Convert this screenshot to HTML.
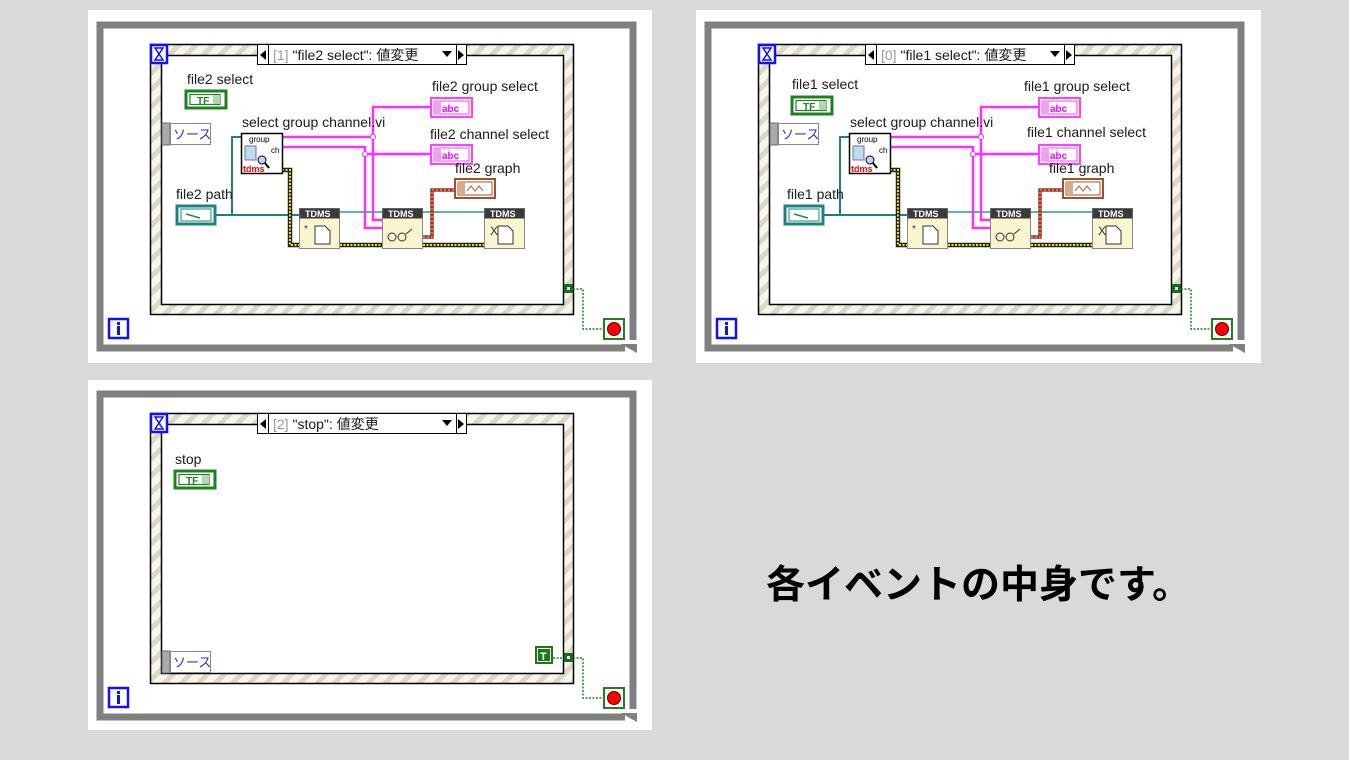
<!DOCTYPE html>
<html><head><meta charset="utf-8"><style>
html,body{margin:0;padding:0;background:#d9d9d9;}
svg{display:block;}
text{font-family:"Liberation Sans","Noto Sans CJK JP",sans-serif;}
</style></head><body>
<svg width="1349" height="760" viewBox="0 0 1349 760" xmlns="http://www.w3.org/2000/svg">
<defs>
<pattern id="hatch" width="12" height="12" patternUnits="userSpaceOnUse" patternTransform="rotate(45)">
<rect width="12" height="12" fill="#f6f5ee"/><rect width="5" height="12" fill="#dcd8c4"/>
</pattern>
<g id="tf">
  <rect x="186" y="91" width="40" height="17" fill="#fff" stroke="#208020" stroke-width="3"/>
  <rect x="190" y="94.5" width="30" height="10" fill="none" stroke="#208020" stroke-width="1.2"/>
  <rect x="213" y="95" width="7" height="9" fill="#b0d8b0"/>
  <text x="197" y="104" font-size="10" font-weight="bold" fill="#208020">TF</text>
</g>
<g id="frame">
  <path d="M633,340 L633,25 L100,25 L100,348 L625,348" fill="none" stroke="#808080" stroke-width="7"/>
  <path d="M621,344 L637,344 L637,353 Z" fill="#808080"/>
  <rect x="150.5" y="44.5" width="423" height="270" fill="url(#hatch)" stroke="#000" stroke-width="1.5"/>
  <rect x="161.5" y="55.5" width="402" height="249" fill="#fff" stroke="#000" stroke-width="1.5"/>
  <rect x="257.5" y="44.5" width="209" height="20" fill="#fff" stroke="#000"/>
  <line x1="268.5" y1="44.5" x2="268.5" y2="64.5" stroke="#000"/>
  <line x1="456.5" y1="44.5" x2="456.5" y2="64.5" stroke="#000"/>
  <path d="M260,55 L266,50 L266,60 Z" fill="#000"/>
  <path d="M464,55 L458,50 L458,60 Z" fill="#000"/>
  <path d="M442,51 L452,51 L447,57 Z" fill="#000"/>
  <rect x="151" y="45" width="16" height="18" fill="#fff" stroke="#1010ff" stroke-width="2.5"/>
  <path d="M155,48 L163,48 L159,54 L163,60 L155,60 L159,54 Z" fill="none" stroke="#1010ff" stroke-width="1.5"/>
  <rect x="109" y="319" width="19" height="19" fill="#fff" stroke="#1010ff" stroke-width="2.5"/>
  <rect x="117" y="322" width="3" height="3" fill="#1010ff"/><rect x="117" y="326" width="3" height="9" fill="#1010ff"/>
  <rect x="604" y="319" width="20" height="20" fill="#fff" stroke="#208020" stroke-width="2"/>
  <circle cx="614" cy="329" r="6.5" fill="#f00" stroke="#600" stroke-width="1"/>
  <rect x="564" y="284" width="9" height="9" fill="#1a6a1a"/><rect x="567" y="287" width="3" height="3" fill="#fff"/>
  <path d="M573,289 L583,289 L583,329 L604,329" fill="none" stroke="#1a8a1a" stroke-width="1.5" stroke-dasharray="2,1.5"/>
</g>
<g id="content">
  <rect x="162" y="123" width="8" height="22" fill="#aaa" stroke="#666"/>
  <rect x="170.5" y="123.5" width="40" height="21" fill="#fff" stroke="#888"/>
  <text x="173" y="139" font-size="13" fill="#3030c0">ソース</text>
  <path d="M216,215 L299,215 M232,215 L232,137 L241,137" fill="none" stroke="#1f8080" stroke-width="2"/>
  <path d="M340,212 L382,212 M423,212 L484,212" stroke="#2a9a9a" stroke-width="1.5"/>
  <path d="M282,170 L290,170 L290,245 L299,245 M340,245 L382,245 M423,245 L484,245" fill="none" stroke="#222" stroke-width="4.5"/>
  <path d="M282,170 L290,170 L290,245 L299,245 M340,245 L382,245 M423,245 L484,245" fill="none" stroke="#e8e800" stroke-width="2" stroke-dasharray="2,1.5"/>
  <path d="M282,137 L373,137 M373,137 L373,107 L430,107 M373,137 L373,220 L382,220 M282,147 L365,147 L365,154 L430,154 M365,154 L365,228 L382,228" fill="none" stroke="#ff30ff" stroke-width="2.5"/>
  <circle cx="373" cy="137" r="2.5" fill="#fff" stroke="#ff30ff"/><circle cx="365" cy="154" r="2.5" fill="#fff" stroke="#ff30ff"/>
  <path d="M423,237 L432,237 L432,190 L454,190" fill="none" stroke="#a0321e" stroke-width="3.5"/>
  <path d="M423,237 L432,237 L432,190 L454,190" fill="none" stroke="#e8c0a0" stroke-width="1" stroke-dasharray="2,2"/>
  <rect x="241.5" y="133.5" width="41" height="40" fill="#fff" stroke="#000" stroke-width="1.5"/>
  <text x="249" y="142" font-size="8" font-family="Liberation Mono">group</text>
  <text x="271" y="153" font-size="8" font-family="Liberation Mono">ch</text>
  <rect x="245" y="146" width="11" height="14" fill="#c0d8f0" stroke="#6080a0"/>
  <circle cx="262" cy="160" r="4" fill="#c0d0ff" stroke="#000"/>
  <line x1="265" y1="163" x2="269" y2="168" stroke="#000" stroke-width="2"/>
  <text x="243" y="172" font-size="9" font-weight="bold" fill="#f00" font-family="Liberation Mono">tdms</text>
  <rect x="177" y="206" width="38" height="18" fill="#fff" stroke="#208080" stroke-width="3"/>
  <rect x="181" y="209" width="30" height="12" fill="none" stroke="#208080"/>
  <path d="M186,214 L200,218" stroke="#208080" stroke-width="1.5"/>
  <g id="tdms">
    <rect x="299.5" y="208.5" width="40" height="40" fill="#f9f5d0" stroke="#888"/>
    <rect x="299.5" y="208.5" width="40" height="10" fill="#3a3a3a"/>
    <text x="305" y="217" font-size="9" fill="#fff" font-family="Liberation Mono" font-weight="bold">TDMS</text>
  </g>
  <use href="#tdms" x="83"/><use href="#tdms" x="185"/>
  <path d="M315,226 L325,226 L330,231 L330,244 L315,244 Z" fill="#fff" stroke="#333"/>
  <text x="304" y="232" font-size="10" fill="#333">*</text>
  <circle cx="392" cy="237" r="4" fill="none" stroke="#333"/><circle cx="402" cy="237" r="4" fill="none" stroke="#333"/>
  <path d="M406,234 L412,229" stroke="#333"/>
  <path d="M498,226 L508,226 L513,231 L513,244 L498,244 Z" fill="#fff" stroke="#333"/>
  <text x="490" y="235" font-size="12" fill="#333">X</text>
  <g id="strind">
    <rect x="431" y="98" width="41" height="19" fill="#fff" stroke="#ff40ff" stroke-width="2"/>
    <rect x="434" y="101" width="35" height="13" fill="#fff" stroke="#ff40ff"/>
    <rect x="434" y="101" width="7" height="13" fill="#f0a0f0"/>
    <text x="442" y="112" font-size="10" font-weight="bold" fill="#ff00ff">abc</text>
  </g>
  <use href="#strind" y="47"/>
  <rect x="455" y="179" width="40" height="19" fill="#fff" stroke="#a0502e" stroke-width="2"/>
  <rect x="458" y="182" width="34" height="13" fill="#fff" stroke="#a0502e"/>
  <rect x="458" y="182" width="7" height="13" fill="#dca890"/>
  <path d="M467,191 L471,186 L475,191 L479,186 L483,191" fill="none" stroke="#a0502e"/>
</g>
</defs>

<rect x="88" y="10" width="564" height="353" fill="#fff"/>
<rect x="696" y="10" width="565" height="353" fill="#fff"/>
<rect x="88" y="380" width="564" height="350" fill="#fff"/>

<!-- Panel 1 -->
<use href="#frame"/>
<use href="#content"/>
<use href="#tf"/>
<g font-size="14" fill="#1a1a1a">
<text x="273" y="60"><tspan fill="#999">[1]</tspan> "file2 select": 値変更</text>
<text x="187" y="84">file2 select</text>
<text x="242" y="127">select group channel.vi</text>
<text x="176" y="199">file2 path</text>
<text x="432" y="91">file2 group select</text>
<text x="430" y="139">file2 channel select</text>
<text x="455" y="173">file2 graph</text>
</g>

<!-- Panel 2 -->
<g transform="translate(608,0)">
<use href="#frame"/>
<use href="#content"/>
</g>
<use href="#tf" x="606" y="6"/>
<g font-size="14" fill="#1a1a1a">
<text x="881" y="60"><tspan fill="#999">[0]</tspan> "file1 select": 値変更</text>
<text x="792" y="89">file1 select</text>
<text x="850" y="127">select group channel.vi</text>
<text x="787" y="199">file1 path</text>
<text x="1024" y="91">file1 group select</text>
<text x="1027" y="137">file1 channel select</text>
<text x="1049" y="173">file1 graph</text>
</g>

<!-- Panel 3 -->
<g transform="translate(0,369)">
<use href="#frame"/>
</g>
<use href="#tf" x="-11" y="380"/>
<rect x="162" y="651" width="8" height="22" fill="#aaa" stroke="#666"/>
<rect x="170.5" y="651.5" width="40" height="21" fill="#fff" stroke="#888"/>
<text x="173" y="667" font-size="13" fill="#3030c0">ソース</text>
<rect x="535" y="646" width="18" height="18" fill="#1a7a1a"/>
<rect x="537.5" y="648.5" width="13" height="13" fill="none" stroke="#fff"/>
<text x="540" y="660" font-size="11" font-weight="bold" fill="#fff">T</text>
<path d="M553,658 L564,658" stroke="#1a8a1a" stroke-width="1.5" stroke-dasharray="2,1.5"/>
<g font-size="14" fill="#1a1a1a">
<text x="273" y="429"><tspan fill="#999">[2]</tspan> "stop": 値変更</text>
<text x="175" y="464">stop</text>
</g>

<text x="766" y="598" font-size="39" font-weight="bold" fill="#000" style="font-family:'Liberation Sans','Noto Sans CJK JP',sans-serif;">各イベントの中身です。</text>
</svg>
</body></html>
